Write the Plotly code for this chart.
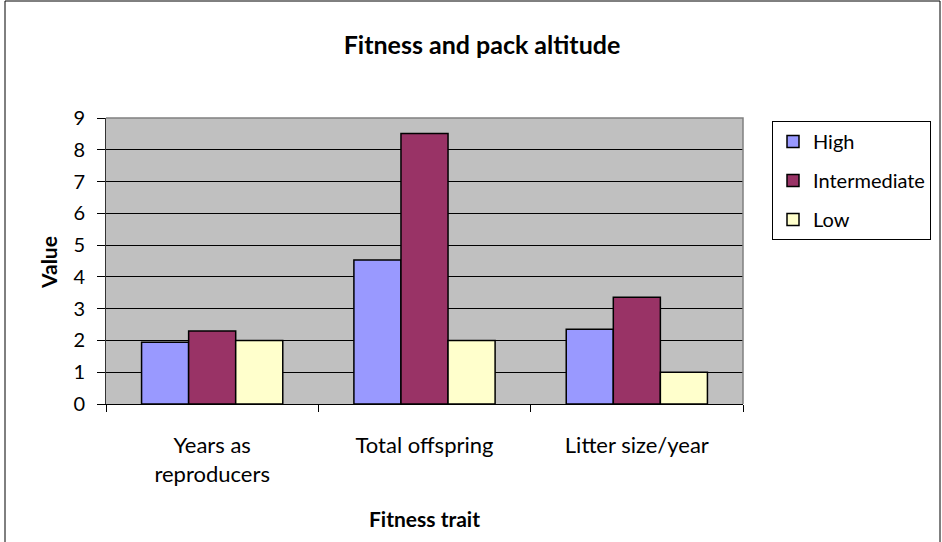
import plotly.graph_objects as go

# Fitness traits measured for wolf packs at three altitudes
traits = ["Years as<br>reproducers", "Total offspring", "Litter size/year"]
high = [1.94, 4.53, 2.35]
intermediate = [2.30, 8.51, 3.36]
low = [2.00, 2.00, 1.00]

series = [
    ("High", high, "#9999FF"),
    ("Intermediate", intermediate, "#993366"),
    ("Low", low, "#FFFFCC"),
]

FONT = "Lato, 'Open Sans', sans-serif"

fig = go.Figure()
for i, (name, vals, color) in enumerate(series):
    fig.add_trace(go.Bar(
        name=name, x=traits, y=vals,
        marker=dict(color=color, line=dict(color="#000000", width=1.5)),
        legendgroup=f"g{i}",
    ))

W, H = 942, 542
L, R, T, B = 106, 199, 118, 138
pw, ph = W - L - R, H - T - B


def px_x(x):
    return (x - L) / pw


def px_y(y):
    return (H - B - y) / ph


fig.update_layout(
    width=W, height=H,
    margin=dict(l=L, r=R, t=T, b=B, autoexpand=False),
    paper_bgcolor="#FFFFFF",
    plot_bgcolor="#C0C0C0",
    barmode="group",
    bargap=0.335,
    bargroupgap=0,
    font=dict(family=FONT, color="#000000", size=20),
    title=dict(
        text="<b>Fitness and pack altitude</b>",
        x=482 / W, xref="container", xanchor="center",
        y=1 - 45 / H, yref="container", yanchor="middle",
        font=dict(size=25, family=FONT, color="#000000"),
    ),
    showlegend=True,
    legend=dict(
        x=px_x(772), y=px_y(121), xanchor="left", yanchor="top",
        bgcolor="#FFFFFF", bordercolor="#000000", borderwidth=1,
        font=dict(size=20, family=FONT),
        tracegroupgap=10,
        traceorder="grouped",
    ),
    xaxis=dict(
        showline=True, linecolor="#000000", linewidth=1,
        ticks="outside", ticklen=7, tickcolor="#000000",
        tickson="boundaries",
        ticklabelstandoff=22,
        showgrid=False,
        tickfont=dict(size=22, family=FONT),
    ),
    yaxis=dict(
        range=[0, 9], dtick=1,
        showline=True, linecolor="#333333", linewidth=1,
        ticks="outside", ticklen=8, tickcolor="#000000",
        ticklabelstandoff=8,
        showgrid=True, gridcolor="#000000", gridwidth=1,
        zeroline=False,
        tickfont=dict(size=20, family=FONT),
    ),
    annotations=[
        dict(text="<b>Fitness trait</b>", xref="paper", yref="paper",
             x=0.5, y=px_y(518), xanchor="center", yanchor="middle",
             showarrow=False, font=dict(size=21, family=FONT)),
        dict(text="<b>Value</b>", xref="paper", yref="paper",
             x=px_x(48), y=px_y(263), xanchor="center", yanchor="middle",
             textangle=-90, showarrow=False, font=dict(size=21, family=FONT)),
    ],
    shapes=[
        # grey frame on the top and right of the plotting area
        dict(type="path", xref="paper", yref="paper",
             path="M 0,1 L 1,1 L 1,0", line=dict(color="#808080", width=1.5),
             layer="above"),
        # outer chart border
        dict(type="rect", xref="paper", yref="paper",
             x0=px_x(5), x1=px_x(940), y0=px_y(560), y1=px_y(1),
             line=dict(color="#000000", width=1), fillcolor="rgba(0,0,0,0)",
             layer="above"),
    ],
)

fig.write_html("out.html")
